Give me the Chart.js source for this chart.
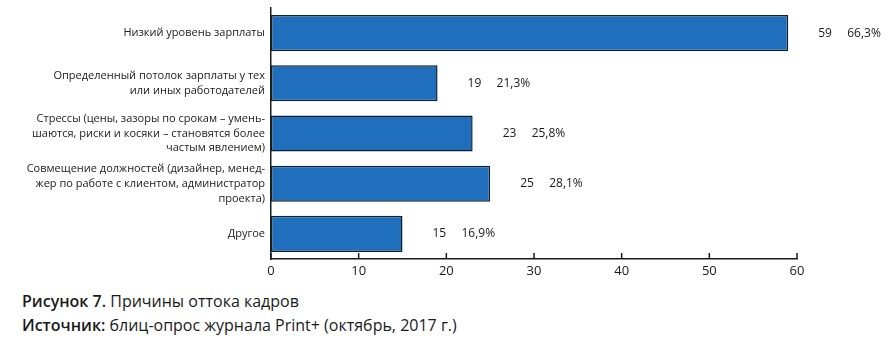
<!DOCTYPE html>
<html>
<head>
<meta charset="utf-8">
<script src="https://cdn.jsdelivr.net/npm/chart.js@4.4.1/dist/chart.umd.min.js"></script>
<style>
  html, body { margin: 0; padding: 0; background: #ffffff; }
  body { width: 896px; height: 349px; position: relative; overflow: hidden; font-family: "Open Sans", sans-serif; color: #1a1a1a; }
  #wrap { position: absolute; left: 0; top: 0; width: 896px; height: 285px; }
  .cap { position: absolute; left: 22px; font-size: 16px; white-space: nowrap; color: #1a1a1a; }
  .cap b { font-weight: 600; }
</style>
</head>
<body>
<div id="wrap"><canvas id="c"></canvas></div>
<div class="cap" style="top:290px;"><b>Рисунок 7.</b> Причины оттока кадров</div>
<div class="cap" style="top:314px;"><b>Источник:</b> блиц-опрос журнала Print+ (октябрь, 2017 г.)</div>
<script>
const categories = [
  ["Низкий уровень зарплаты"],
  ["Определенный потолок зарплаты у тех", "или иных работодателей"],
  ["Стрессы (цены, зазоры по срокам – умень-", "шаются, риски и косяки – становятся более", "частым явлением)"],
  ["Совмещение должностей (дизайнер, менед-", "жер по работе с клиентом, администратор", "проекта)"],
  ["Другое"]
];
const counts = [59, 19, 23, 25, 15];
const percents = ["66,3%", "21,3%", "25,8%", "28,1%", "16,9%"];
const xTicks = [0, 10, 20, 30, 40, 50, 60];

const valueLabels = {
  id: 'valueLabels',
  afterDatasetsDraw(chart) {
    const ctx = chart.ctx;
    const meta = chart.getDatasetMeta(0);
    ctx.save();
    ctx.font = '12px "Open Sans", sans-serif';
    ctx.fillStyle = '#1a1a1a';
    ctx.textAlign = 'left';
    ctx.textBaseline = 'middle';
    meta.data.forEach((bar, i) => {
      const x = bar.x + 30;
      ctx.fillText(String(counts[i]), x, bar.y);
      ctx.fillText(percents[i], x + 29, bar.y);
    });
    ctx.restore();
  }
};

const innerTicks = {
  id: 'innerTicks',
  afterDraw(chart) {
    const ctx = chart.ctx;
    const xs = chart.scales.x;
    const y0 = chart.chartArea.bottom;
    ctx.save();
    ctx.strokeStyle = '#1a1a1a';
    ctx.lineWidth = 1.5;
    xTicks.forEach(v => {
      const px = xs.getPixelForValue(v);
      ctx.beginPath();
      ctx.moveTo(px, y0);
      ctx.lineTo(px, y0 - 6);
      ctx.stroke();
    });
    ctx.restore();
  }
};

new Chart(document.getElementById('c'), {
  type: 'bar',
  data: {
    labels: categories,
    datasets: [{
      data: counts,
      backgroundColor: '#1f6fbd',
      borderColor: '#14202c',
      borderWidth: 1.5,
      borderSkipped: false,
      barPercentage: 0.72,
      categoryPercentage: 1.0
    }]
  },
  options: {
    indexAxis: 'y',
    responsive: true,
    maintainAspectRatio: false,
    animation: false,
    events: [],
    layout: { padding: { top: 8, right: 99, left: 0, bottom: 0 } },
    plugins: { legend: { display: false }, tooltip: { enabled: false } },
    scales: {
      x: {
        min: 0, max: 60,
        afterBuildTicks(scale) { scale.ticks = xTicks.map(v => ({ value: v })); },
        afterFit(scale) { scale.height = 26; scale.paddingLeft = 0; scale.paddingRight = 0; },
        grid: { display: false, drawTicks: false },
        border: { display: true, color: '#1a1a1a', width: 1.5 },
        ticks: {
          padding: 4,
          color: '#1a1a1a',
          font: { family: '"Open Sans", sans-serif', size: 13 },
          maxRotation: 0
        }
      },
      y: {
        afterFit(scale) { scale.width = 271; scale.paddingTop = 0; scale.paddingBottom = 0; },
        grid: { display: false, drawTicks: false },
        border: { display: true, color: '#1a1a1a', width: 1.5 },
        ticks: {
          padding: 6,
          color: '#1a1a1a',
          font: { family: '"Open Sans", sans-serif', size: 11, lineHeight: 1.35 },
          autoSkip: false
        }
      }
    }
  },
  plugins: [valueLabels, innerTicks]
});
</script>
</body>
</html>
